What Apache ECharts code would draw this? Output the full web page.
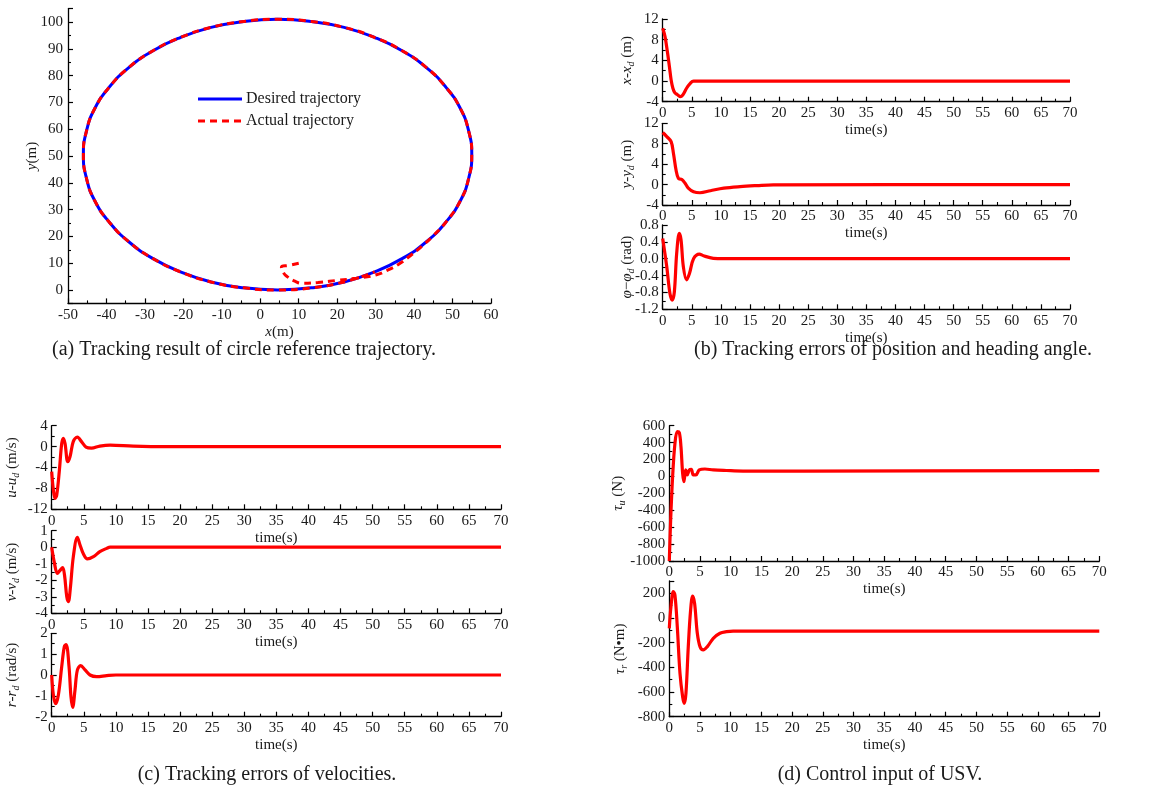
<!DOCTYPE html>
<html><head><meta charset="utf-8">
<script src="https://cdn.jsdelivr.net/npm/echarts@6/dist/echarts.min.js"></script>
<style>html,body{margin:0;padding:0;background:#fff}#c{width:1166px;height:798px}</style>
</head><body><div id="c"></div>
<script>
// ---------- Panel (a): trajectory (x, y in metres) ----------
const desiredX = [4.5,13.3,21.8,29.8,37.0,43.2,48.2,52.0,54.2,55.0,54.2,52.0,48.2,43.2,37.0,29.8,21.8,13.3,4.5,-4.3,-12.8,-20.8,-28.0,-34.2,-39.2,-43.0,-45.2,-46.0,-45.2,-43.0,-39.2,-34.2,-28.0,-20.8,-12.8,-4.3,4.5];
const desiredY = [0.0,0.8,3.0,6.8,11.8,18.0,25.2,33.2,41.7,50.5,59.3,67.8,75.8,83.0,89.2,94.2,98.0,100.2,101.0,100.2,98.0,94.2,89.2,83.0,75.8,67.8,59.3,50.5,41.7,33.2,25.2,18.0,11.8,6.8,3.0,0.8,0.0];
const transientX = [10.0,7.5,5.5,6.0,7.0,9.0,11.0,15.0,20.0,25.0,30.0,33.0,36.0,39.0,42.0,45.0];
const transientY = [10.0,9.2,8.5,6.5,5.0,3.3,2.5,2.8,3.6,4.4,5.6,7.3,9.6,12.8,16.3,20.3];
const legendNames = ['Desired trajectory','Actual trajectory'];

// ---------- Panel (b): tracking errors ----------
const tB1 = [0,0.4,0.8,1.15,1.45,1.75,2.1,2.5,3.0,3.45,4.1,4.7,5.3,70];
const vB1 = [10.2,8.6,5.7,2.8,0.2,-1.4,-2.3,-2.6,-3.0,-2.7,-1.4,-0.5,0,0];
const tB2 = [0,0.7,1.45,1.85,2.3,2.7,3.3,3.85,4.4,5.3,6.4,8.2,10.5,13.3,16.2,19,70];
const vB2 = [10.2,9.4,8.4,6.1,2.8,1.2,1.0,0.25,-0.7,-1.4,-1.6,-1.2,-0.7,-0.4,-0.2,-0.05,0];
const tB3 = [0,0.7,1.25,1.65,2.0,2.4,2.85,3.15,3.55,4.1,4.6,5.3,6.3,7.0,8.7,10.5,70];
const vB3 = [0.48,-0.19,-0.83,-0.98,-0.79,0.12,0.6,0.45,-0.19,-0.5,-0.35,0.0,0.11,0.07,0.01,0,0];

// ---------- Panel (c): velocity errors ----------
const tC1 = [0,0.26,0.52,0.78,1.2,1.56,1.82,2.08,2.5,2.86,3.37,4.0,4.67,5.35,6.2,7.5,9.1,12.7,17.9,70];
const vC1 = [-4.8,-8.3,-9.9,-9.3,-4.5,0.6,1.6,0.6,-2.9,-1.9,1.0,1.8,0.9,-0.1,-0.3,0.1,0.3,0.1,0,0];
const tC2 = [0,0.4,0.88,1.3,1.71,2.0,2.35,2.6,2.9,3.37,4.0,4.4,4.93,5.56,6.5,7.5,8.57,9.1,70];
const vC2 = [0,-0.9,-1.58,-1.4,-1.24,-1.7,-3.0,-3.29,-2.5,-0.57,0.6,0.15,-0.4,-0.71,-0.57,-0.27,-0.07,0,0];
const tC3 = [0,0.26,0.62,1.04,1.56,1.97,2.25,2.7,3.0,3.27,3.63,4.0,4.52,5.2,5.97,7.0,8.57,10,70];
const vC3 = [0,-0.96,-1.38,-0.96,0.4,1.36,1.46,0.4,-1.04,-1.55,-0.72,0.24,0.45,0.24,0,-0.08,-0.03,0,0];

// ---------- Panel (d): control inputs ----------
const tD1 = [0,0.22,0.54,0.92,1.3,1.63,1.9,2.17,2.39,2.66,2.93,3.26,3.58,3.9,4.34,4.88,5.8,7.16,9.3,12,22,70];
const vD1 = [-1000,-516,-3,391,530,518,352,37,-61,77,18,77,85,18,18,77,88,77,70,64,64,68];
const tD2 = [0,0.27,0.65,0.92,1.3,1.74,2.17,2.44,2.71,3.09,3.47,3.8,4.12,4.56,5.0,5.53,6.19,7.16,8.25,9.33,10.4,70];
const vD2 = [-84,92,214,186,-70,-449,-638,-692,-611,-232,65,178,119,-124,-232,-259,-232,-165,-124,-111,-106,-107];

const captions = [
  '(a) Tracking result of circle reference trajectory.',
  '(b) Tracking errors of position and heading angle.',
  '(c) Tracking errors of velocities.',
  '(d) Control input of USV.'
];

// ---------- build ----------
const FONT = 'Liberation Serif';
const INK = '#1a1a1a';
const pairs = (a, b) => a.map((x, i) => [x, b[i]]);
const rich = {
  i: {fontStyle: 'italic', fontSize: 15, fontFamily: FONT, color: INK},
  n: {fontSize: 15, fontFamily: FONT, color: INK},
  s: {fontStyle: 'italic', fontSize: 10, fontFamily: FONT, color: INK, padding: [9, 0, 0, 0]}
};
const axisCommon = () => ({
  nameMoveOverlap: false,
  axisLine: {show: true, onZero: false, lineStyle: {color: '#000', width: 1.3}},
  axisTick: {show: true, inside: true, length: 5, lineStyle: {color: '#000', width: 1.2}},
  minorTick: {show: true, splitNumber: 2, length: 3, lineStyle: {color: '#000', width: 1.1}},
  splitLine: {show: false},
  axisLabel: {color: INK, fontSize: 15, fontFamily: FONT, margin: 4, formatter: v => String(v)}
});

const grids = [], xAxes = [], yAxes = [], series = [];

// Panel (a)
grids.push({left: 68, top: 8.6, width: 423, height: 294.8});
xAxes.push(Object.assign(axisCommon(), {
  type: 'value', gridIndex: 0, min: -50, max: 60, interval: 10,
  name: '{i|x}{n|(m)}', nameLocation: 'middle', nameGap: 21,
  nameTextStyle: {rich: rich}
}));
yAxes.push(Object.assign(axisCommon(), {
  type: 'value', gridIndex: 0, min: -5, max: 105, splitNumber: 11,
  name: '{i|y}{n|(m)}', nameLocation: 'middle', nameGap: 28,
  nameTextStyle: {rich: rich}
}));
yAxes[0].axisLabel = Object.assign({}, yAxes[0].axisLabel, {showMinLabel: false, showMaxLabel: false, margin: 5});
series.push({
  name: legendNames[0], type: 'line', xAxisIndex: 0, yAxisIndex: 0, symbol: 'none', smooth: 0.5,
  data: pairs(desiredX, desiredY), lineStyle: {color: '#0000ff', width: 3}, itemStyle: {color: '#0000ff'}
});
const actualX = transientX.concat(desiredX.slice(6), desiredX.slice(1, 4));
const actualY = transientY.concat(desiredY.slice(6), desiredY.slice(1, 4));
series.push({
  name: legendNames[1], type: 'line', xAxisIndex: 0, yAxisIndex: 0, symbol: 'none', smooth: 0.5,
  data: pairs(actualX, actualY), lineStyle: {color: '#ff0000', width: 3, type: [7, 5]}, itemStyle: {color: '#ff0000'}
});

function addSub(rect, ymin, ymax, yint, yname, t, v, opts) {
  opts = opts || {};
  const gi = grids.length;
  grids.push(rect);
  xAxes.push(Object.assign(axisCommon(), {
    type: 'value', gridIndex: gi, min: 0, max: 70, interval: 5,
    name: 'time(s)', nameLocation: 'middle', nameGap: 21,
    nameTextStyle: {color: INK, fontSize: 15, fontFamily: FONT}
  }));
  const ya = Object.assign(axisCommon(), {
    type: 'value', gridIndex: gi, min: ymin, max: ymax, interval: yint,
    name: yname, nameLocation: 'middle', nameGap: opts.nameGap || 26,
    nameTextStyle: {rich: rich}
  });
  ya.axisLabel = Object.assign({}, ya.axisLabel, opts.label || {});
  yAxes.push(ya);
  series.push({
    type: 'line', xAxisIndex: gi, yAxisIndex: gi, symbol: 'none', smooth: 0.35,
    data: pairs(t, v), lineStyle: {color: '#ff0000', width: 3.2}
  });
}

// (b)
const bL = 662.7, bW = 407.3;
addSub({left: bL, top: 19, width: bW, height: 82.7}, -4, 12, 4, '{i|x}{n|-}{i|x}{s|d}{n| (m)}', tB1, vB1);
addSub({left: bL, top: 123.3, width: bW, height: 81.7}, -4, 12, 4, '{i|y}{n|-}{i|y}{s|d}{n| (m)}', tB2, vB2);
addSub({left: bL, top: 225, width: bW, height: 84.3}, -1.2, 0.8, 0.4, '{i|φ}{n|−}{i|φ}{s|d}{n| (rad)}', tB3, vB3,
  {label: {formatter: v => v.toFixed(1)}});
// (c)
const cL = 51.7, cW = 449.3;
addSub({left: cL, top: 425.7, width: cW, height: 83.6}, -12, 4, 4, '{i|u}{n|-}{i|u}{s|d}{n| (m/s)}', tC1, vC1, {nameGap: 30});
addSub({left: cL, top: 530.7, width: cW, height: 82.6}, -4, 1, 1, '{i|v}{n|-}{i|v}{s|d}{n| (m/s)}', tC2, vC2, {nameGap: 30});
addSub({left: cL, top: 633.3, width: cW, height: 83.4}, -2, 2, 1, '{i|r}{n|-}{i|r}{s|d}{n| (rad/s)}', tC3, vC3, {nameGap: 30});
// (d)
const dL = 669.3, dW = 430;
addSub({left: dL, top: 425.7, width: dW, height: 135.3}, -1000, 600, 200, '{i|τ}{s|u}{n| (N)}', tD1, vD1, {nameGap: 42});
addSub({left: dL, top: 581, width: dW, height: 135.7}, -800, 300, 200, '{i|τ}{s|r}{n| (N•m)}', tD2, vD2,
  {nameGap: 40, label: {showMaxLabel: false}});

const capPos = [[244, 350], [893, 350], [267, 775], [880, 775]];
const graphic = captions.map((c, i) => ({
  type: 'text', x: capPos[i][0], y: capPos[i][1],
  style: {text: c, textAlign: 'center', textVerticalAlign: 'middle', fontSize: 20, fontFamily: FONT, fill: INK}
}));
// legend of panel (a), drawn as line samples + labels
const legendStyles = [{stroke: '#0000ff', lineDash: null}, {stroke: '#ff0000', lineDash: [7, 5]}];
legendNames.forEach((nm, i) => {
  const y = 99 + i * 22;
  graphic.push({type: 'line', shape: {x1: 198, y1: y, x2: 242, y2: y},
    style: {stroke: legendStyles[i].stroke, lineWidth: 3, lineDash: legendStyles[i].lineDash}});
  graphic.push({type: 'text', x: 246, y: y,
    style: {text: nm, textAlign: 'left', textVerticalAlign: 'middle', fontSize: 16, fontFamily: FONT, fill: INK}});
});

const chart = echarts.init(document.getElementById('c'), null, {renderer: 'canvas'});
chart.setOption({
  backgroundColor: '#fff',
  animation: false,
  grid: grids, xAxis: xAxes, yAxis: yAxes, series: series,
  graphic: graphic
});
</script></body></html>
